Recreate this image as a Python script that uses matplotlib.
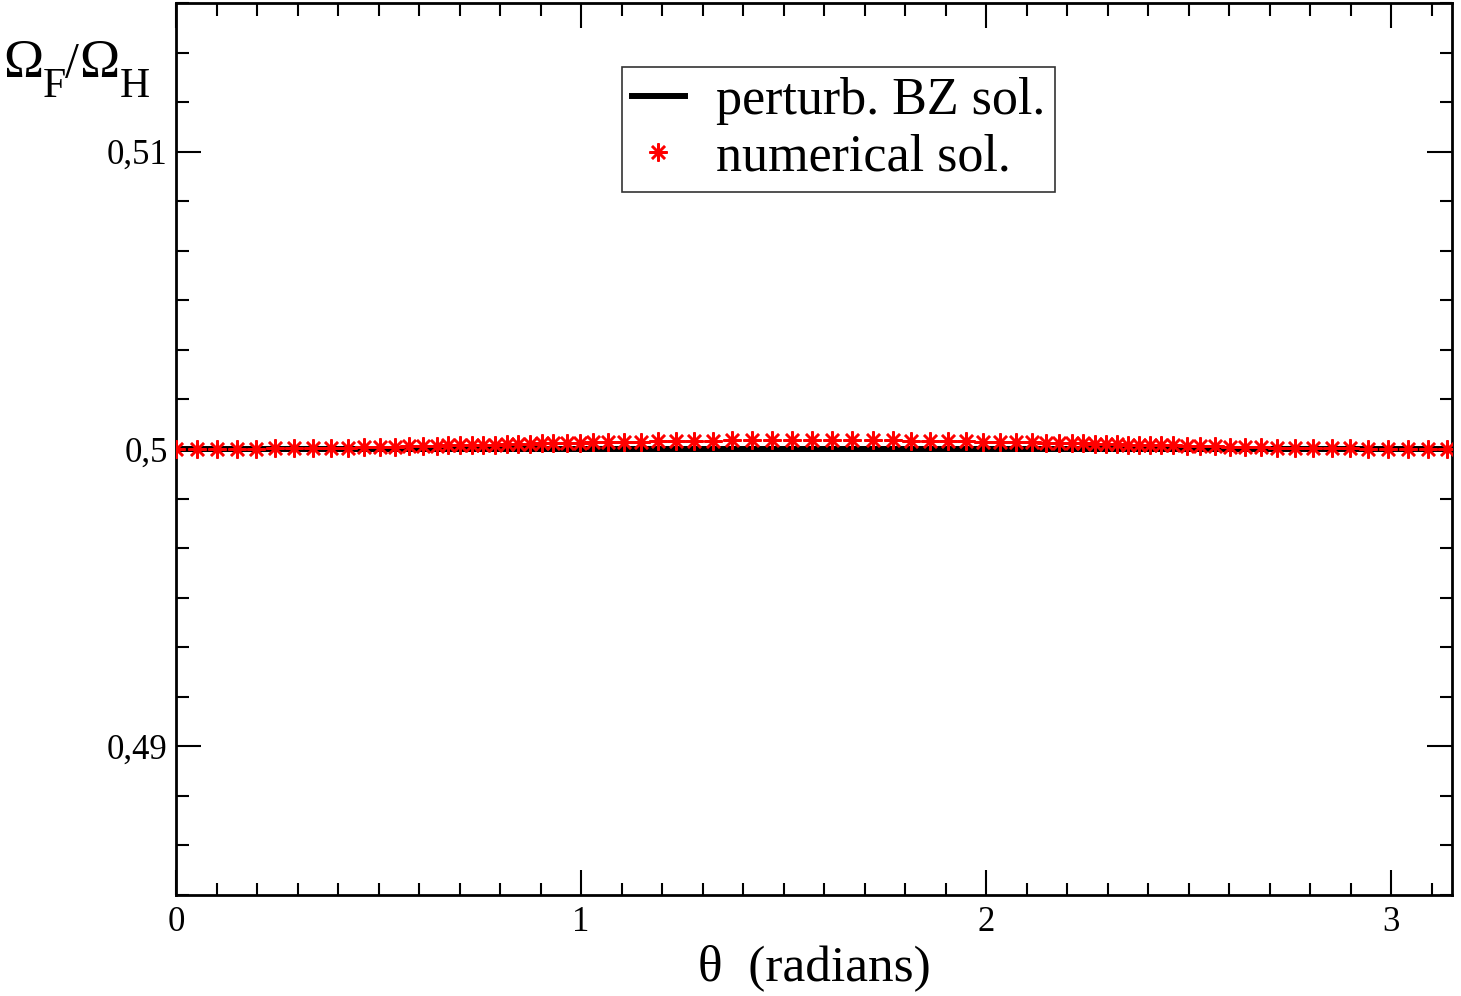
import matplotlib
matplotlib.use("Agg")
import matplotlib.pyplot as plt
from matplotlib.ticker import MultipleLocator, AutoMinorLocator, FuncFormatter

# perturbative BZ solution: constant 1/2
bz_theta = [0.0, 3.15]
bz_ratio = [0.5, 0.5]

# numerical solution (theta in radians, deviation from 0.5 in units of 1e-4)
num_theta = [
    0.000, 0.051, 0.100, 0.150, 0.198, 0.244, 0.291, 0.338, 0.382, 0.425,
    0.464, 0.504, 0.541, 0.575, 0.610, 0.644, 0.672, 0.701, 0.730, 0.758,
    0.788, 0.817, 0.844, 0.874, 0.903, 0.931, 0.965, 0.998, 1.030, 1.067,
    1.106, 1.147, 1.190, 1.235, 1.279, 1.326, 1.373, 1.422, 1.472, 1.521,
    1.570, 1.620, 1.669, 1.721, 1.770, 1.815, 1.862, 1.906, 1.951, 1.993,
    2.035, 2.074, 2.114, 2.147, 2.180, 2.212, 2.240, 2.269, 2.296, 2.323,
    2.350, 2.378, 2.405, 2.432, 2.462, 2.496, 2.528, 2.565, 2.602, 2.640,
    2.678, 2.719, 2.763, 2.807, 2.853, 2.899, 2.943, 2.993, 3.042, 3.091,
    3.137,
]
num_dev = [
    0.0, 0.0, 0.0, 0.1, 0.1, 0.2, 0.3, 0.3, 0.4, 0.5,
    0.6, 0.7, 0.8, 0.9, 1.0, 1.1, 1.2, 1.3, 1.4, 1.4,
    1.5, 1.6, 1.7, 1.8, 1.9, 2.0, 2.0, 2.1, 2.2, 2.3,
    2.4, 2.5, 2.6, 2.7, 2.7, 2.8, 2.9, 2.9, 3.0, 3.0,
    3.0, 3.0, 3.0, 2.9, 2.9, 2.8, 2.7, 2.7, 2.6, 2.5,
    2.4, 2.3, 2.2, 2.1, 2.0, 2.0, 1.9, 1.8, 1.7, 1.6,
    1.5, 1.4, 1.4, 1.3, 1.2, 1.1, 1.0, 0.9, 0.8, 0.7,
    0.6, 0.5, 0.4, 0.3, 0.3, 0.2, 0.1, 0.1, 0.0, 0.0,
    0.0,
]
num_ratio = [0.5 + d * 1e-4 for d in num_dev]

x_ticks = [0, 1, 2, 3]
y_ticks = [0.49, 0.50, 0.51]

plt.rcParams["font.family"] = ["Liberation Serif", "DejaVu Serif"]

W, H = 1461, 996
fig = plt.figure(figsize=(W / 100, H / 100), dpi=100)
ax = fig.add_axes([176 / W, 101 / H, 1276 / W, 892 / H])

ax.plot(bz_theta, bz_ratio, color="black", lw=4.3, label="perturb. BZ sol.",
        zorder=2)
ax.plot(num_theta, num_ratio, ls="none", marker=(8, 2, 0), ms=13, mew=1.8,
        color="red", label="numerical sol.", zorder=3)

ax.set_xlim(0, 3.15)
ax.set_ylim(0.485, 0.515)
ax.set_xticks(x_ticks)
ax.set_yticks(y_ticks)
ax.xaxis.set_minor_locator(MultipleLocator(0.1))
ax.yaxis.set_minor_locator(AutoMinorLocator(6))
ax.yaxis.set_major_formatter(FuncFormatter(lambda v, p: ("%g" % v).replace(".", ",")))
ax.tick_params(which="both", direction="in", top=True, right=True, width=1.5,
               labelsize=25)
ax.tick_params(which="major", length=18)
ax.tick_params(which="minor", length=9)
ax.tick_params(axis="x", pad=8)
ax.tick_params(axis="y", pad=6)
for s in ax.spines.values():
    s.set_linewidth(2)

ax.set_xlabel("θ  (radians)", fontsize=37, labelpad=4)

# y label drawn piece by piece (low, large subscripts as in xmgrace)
for txt, px, py, fs in [("Ω", 3, 77, 39), ("F", 43, 97, 30), ("/", 65, 77, 36),
                        ("Ω", 79, 77, 39), ("H", 120, 97, 30)]:
    fig.text(px / W, 1 - py / H, txt, fontsize=fs, ha="left", va="baseline")

leg = ax.legend(loc="upper left", bbox_to_anchor=(622 / W, 1 - 67 / H),
                bbox_transform=fig.transFigure, fontsize=37.5, frameon=True,
                fancybox=False, handlelength=1.0, handletextpad=0.6,
                labelspacing=0.15, borderpad=0.2, borderaxespad=0,
                markerscale=1.0)
leg.get_frame().set_edgecolor("black")
leg.get_frame().set_linewidth(1.2)

fig.savefig("out.png", dpi=100)
